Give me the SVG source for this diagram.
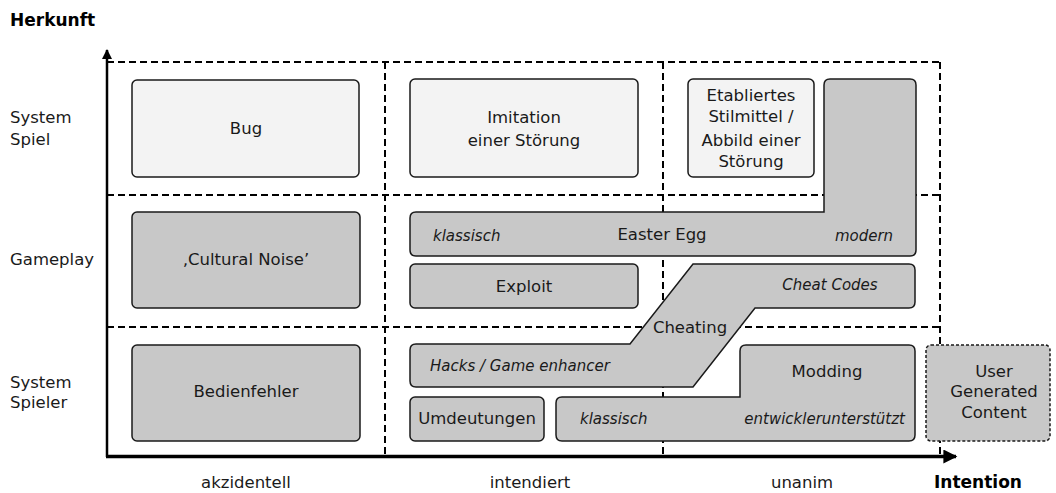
<svg xmlns="http://www.w3.org/2000/svg" width="1056" height="493" viewBox="0 0 1056 493">
<style>
text{font-family:"DejaVu Sans",Verdana,sans-serif;font-size:16.5px;fill:#1a1a1a}
.b{font-weight:bold;font-size:17px;fill:#000}
.i{font-style:italic;font-size:15px}
.m{text-anchor:middle}
.light{fill:#f3f3f3;stroke:#1a1a1a;stroke-width:1.5}
.dark{fill:#c8c8c8;stroke:#1a1a1a;stroke-width:1.5}
.grid{fill:none;stroke:#000;stroke-width:2;stroke-dasharray:7 4}
</style>
<defs>
<marker id="ah" viewBox="0 0 10 10" refX="9" refY="5" markerWidth="5" markerHeight="4" orient="auto" markerUnits="strokeWidth"><path d="M0,0 L10,5 L0,10 Z" fill="#000"/></marker>
</defs>
<rect width="1056" height="493" fill="#fff"/>
<g id="grid">
<path class="grid" d="M107,62 H940 M107,195 H940 M107,327 H940 M385,62 V456 M663,62 V456 M940,62 V456"/>
</g>
<g id="axes">
<line x1="107" y1="457" x2="107" y2="50" stroke="#000" stroke-width="2.5" marker-end="url(#ah)"/>
<line x1="106" y1="456.5" x2="956" y2="456.5" stroke="#000" stroke-width="3.5" marker-end="url(#ah)"/>
</g>
<g id="labels">
<text class="b" x="10" y="26">Herkunft</text>
<text x="10" y="123">System</text>
<text x="10" y="145">Spiel</text>
<text x="10" y="265">Gameplay</text>
<text x="10" y="388">System</text>
<text x="10" y="408">Spieler</text>
<text class="m" x="246" y="488">akzidentell</text>
<text class="m" x="530" y="488">intendiert</text>
<text class="m" x="802" y="488">unanim</text>
<text class="b m" x="978" y="488">Intention</text>
</g>
<g id="bug"><rect class="light" x="132" y="80" width="227" height="97" rx="5"/><text class="m" x="246" y="134">Bug</text></g>
<g id="imitation"><rect class="light" x="410" y="79" width="228" height="98" rx="5"/><text class="m" x="524" y="123">Imitation</text><text class="m" x="524" y="146">einer Störung</text></g>
<g id="stilmittel"><rect class="light" x="688" y="79" width="126" height="98" rx="5"/><text class="m" x="751" y="101">Etabliertes</text><text class="m" x="751" y="122">Stilmittel /</text><text class="m" x="751" y="146">Abbild einer</text><text class="m" x="751" y="167">Störung</text></g>
<g id="eastergg"><path class="dark" d="M416,212 L824,212 L824,85 Q824,79 830,79 L910,79 Q916,79 916,85 L916,250 Q916,256 910,256 L416,256 Q410,256 410,250 L410,218 Q410,212 416,212 Z"/><text class="i" x="433" y="241">klassisch</text><text class="m" x="662" y="240">Easter Egg</text><text class="i m" x="864" y="241">modern</text></g>
<g id="culturalnoise"><rect class="dark" x="132" y="212" width="228" height="96" rx="5"/><text class="m" x="246" y="265">‚Cultural Noise’</text></g>
<g id="exploit"><rect class="dark" x="410" y="264" width="228" height="44" rx="5"/><text class="m" x="524" y="292">Exploit</text></g>
<g id="cheating"><path class="dark" d="M693,264 L909,264 Q915,264 915,270 L915,302 Q915,308 909,308 L755,308 L693,387 L416,387 Q410,387 410,381 L410,350 Q410,344 416,344 L630,344 Z"/><text class="i m" x="830" y="290">Cheat Codes</text><text class="m" x="690" y="333">Cheating</text><text class="i" x="430" y="371">Hacks / Game enhancer</text></g>
<g id="bedienfehler"><rect class="dark" x="132" y="345" width="228" height="96" rx="5"/><text class="m" x="246" y="397">Bedienfehler</text></g>
<g id="umdeutungen"><rect class="dark" x="410" y="397" width="134" height="44" rx="5"/><text class="m" x="477" y="424">Umdeutungen</text></g>
<g id="modding"><path class="dark" d="M562,397 L740,397 L740,351 Q740,345 746,345 L909,345 Q915,345 915,351 L915,435 Q915,441 909,441 L562,441 Q556,441 556,435 L556,403 Q556,397 562,397 Z"/><text class="m" x="827" y="377">Modding</text><text class="i" x="580" y="424">klassisch</text><text class="i" x="905" y="424" text-anchor="end">entwicklerunterstützt</text></g>
<g id="ugc"><rect x="926" y="345" width="124" height="96" rx="5" fill="#c8c8c8" stroke="#1a1a1a" stroke-width="1.5" stroke-dasharray="3 2"/><text class="m" x="994" y="377">User</text><text class="m" x="994" y="397">Generated</text><text class="m" x="994" y="418">Content</text></g>
</svg>
